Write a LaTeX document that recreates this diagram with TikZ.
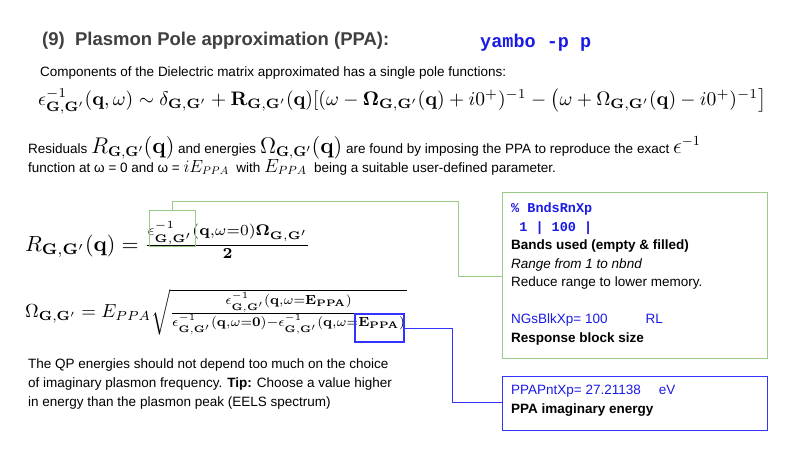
\documentclass[tikz,border=0pt]{standalone}
\usepackage{amsmath,graphicx}
\usepackage[no-math]{fontspec}
\setmainfont{Liberation Sans}
\setmonofont{Liberation Mono}
\definecolor{gbox}{HTML}{9BCB86}
\definecolor{bbox}{HTML}{3333FF}
\definecolor{tblue}{HTML}{1A1AE6}
\definecolor{ttl}{HTML}{404040}
\begin{document}
\begin{tikzpicture}[x=1pt,y=-1pt,
  txt/.style={anchor=west,inner sep=0pt,font=\fontsize{13.5}{15}\selectfont},
  lab/.style={anchor=north west,inner sep=0pt,align=left,font=\fontsize{13.5}{15.5}\selectfont}]
\useasboundingbox (0,0) rectangle (800,450);
\node[anchor=west,inner sep=0pt,text=ttl,font=\fontsize{18.5}{20}\selectfont\bfseries] (title) at (42,41) {(9)\ \ Plasmon Pole approximation (PPA):};
\node[anchor=west,inner sep=0pt,text=tblue,font=\fontsize{18.5}{20}\selectfont\ttfamily\bfseries] (cmd) at (480,43) {yambo -p p};
\node[txt] (l1) at (40,73) {Components of the Dielectric matrix approximated has a single pole functions:};
\node[anchor=west,inner sep=0pt] (eq1) at (38,101) {\resizebox{728pt}{!}{$\epsilon^{-1}_{\mathbf{G},\mathbf{G}'}(\mathbf{q},\omega)\sim\delta_{\mathbf{G},\mathbf{G}'}+\mathbf{R}_{\mathbf{G},\mathbf{G}'}(\mathbf{q})[(\omega-\boldsymbol{\Omega}_{\mathbf{G},\mathbf{G}'}(\mathbf{q})+i0^+)^{-1}-\big(\omega+\Omega_{\mathbf{G},\mathbf{G}'}(\mathbf{q})-i0^+)^{-1}\big]$}};
\node[txt] (r1) at (28,148) {Residuals \resizebox{!}{17pt}{$R_{\mathbf{G},\mathbf{G}'}(\mathbf{q})$} and energies \resizebox{!}{17pt}{$\Omega_{\mathbf{G},\mathbf{G}'}(\mathbf{q})$} are found by imposing the PPA to reproduce the exact \resizebox{!}{17pt}{$\epsilon^{-1}$}};
\node[txt] (r2) at (28,167) {function at ω = 0 and ω = \resizebox{!}{12pt}{$iE_{PPA}$}\ \ with \resizebox{!}{13pt}{$E_{PPA}$}\ \ being a suitable user-defined parameter.};
\node[anchor=west,inner sep=0pt] (eqR) at (25,240) {\resizebox{285pt}{!}{$R_{\mathbf{G},\mathbf{G}'}(\mathbf{q})=\frac{\epsilon^{-1}_{\mathbf{G},\mathbf{G}'}(\mathbf{q},\omega{=}0)\boldsymbol{\Omega}_{\mathbf{G},\mathbf{G}'}}{\mathbf{2}}$}};
\node[anchor=west,inner sep=0pt] (eqO) at (25,312) {\resizebox{382pt}{!}{$\Omega_{\mathbf{G},\mathbf{G}'}=E_{PPA}\sqrt{\frac{\epsilon^{-1}_{\mathbf{G},\mathbf{G}'}(\mathbf{q},\omega{=}\mathbf{E_{PPA}})}{\epsilon^{-1}_{\mathbf{G},\mathbf{G}'}(\mathbf{q},\omega{=}\mathbf{0})-\epsilon^{-1}_{\mathbf{G},\mathbf{G}'}(\mathbf{q},\omega{=}\mathbf{E_{PPA}})}}$}};
\node[lab,font=\fontsize{13.5}{19}\selectfont] (qp) at (28,359) {The QP energies should not depend too much on the choice\\of imaginary plasmon frequency. \textbf{Tip:} Choose a value higher\\in energy than the plasmon peak (EELS spectrum)};
% boxes
\node[draw=gbox,line width=0.8pt,minimum width=46pt,minimum height=36pt,inner sep=0pt] (gs) at (172,228) {};
\node[draw=bbox,line width=1.3pt,minimum width=49pt,minimum height=28pt,inner sep=0pt] (bs) at (379.5,328) {};
\node[draw=gbox,line width=0.8pt,anchor=north west,minimum width=265pt,minimum height=166pt,inner sep=0pt] (gb) at (502,192) {};
\node[lab,font=\fontsize{13.5}{18.5}\selectfont] (gt) at (511,203) {\textcolor{tblue}{\ttfamily\bfseries\% BndsRnXp}\\\textcolor{tblue}{\ttfamily\bfseries\ 1 | 100 |}\\\textbf{Bands used (empty \& filled)}\\\textit{Range from 1 to nbnd}\\Reduce range to lower memory.\\[18.5pt]\textcolor{tblue}{NGsBlkXp= 100\hspace{38pt}RL}\\\textbf{Response block size}};
\node[draw=bbox,line width=0.8pt,anchor=north west,minimum width=265pt,minimum height=54pt,inner sep=0pt] (bb) at (502,376) {};
\node[lab,font=\fontsize{13.5}{18.5}\selectfont] (bt) at (511,385) {\textcolor{tblue}{PPAPntXp= 27.21138\hspace{18pt}eV}\\\textbf{PPA imaginary energy}};
\draw[gbox,line width=0.8pt] (gs.north) -- ++(0,-8) -| (458,276) -- (gb.west |- 0,276);
\draw[bbox,line width=0.8pt] (bs.east) -| (452,402) -- (bb.west |- 0,402);
\end{tikzpicture}
\end{document}
